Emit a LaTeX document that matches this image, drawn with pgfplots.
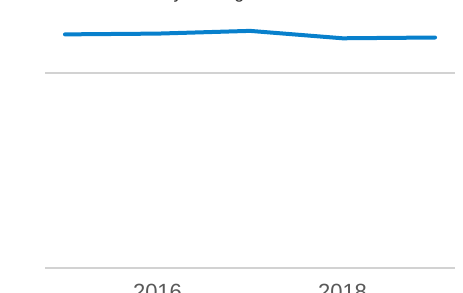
\documentclass[border=0pt]{standalone}
\usepackage{pgfplots}
\pgfplotsset{compat=1.18}
\usepackage{fontspec}
\setmainfont{Liberation Sans}
\definecolor{lineblue}{RGB}{8,128,204}
\definecolor{gridgray}{RGB}{210,210,210}
\definecolor{labelgray}{RGB}{89,89,89}
\definecolor{titlegray}{RGB}{51,51,51}
\begin{document}
\begin{tikzpicture}[x=1pt,y=1pt]
\clip (0,0) rectangle (463,292);
\path[use as bounding box] (0,0) rectangle (463,292);
\node[anchor=base west, inner sep=0pt, font=\fontsize{18}{22}\selectfont, text=titlegray] at (119.5,293.5) {Monthly Average};
\begin{axis}[
  at={(45pt,24pt)}, anchor=south west,
  scale only axis, width=410pt, height=273pt,
  xmin=2014.784, xmax=2019.216, ymin=0, ymax=70,
  axis line style={draw=none},
  major tick length=0pt,
  ytick={0,50}, yticklabels={},
  ymajorgrids, grid style={color=gridgray, line width=1.6pt},
  xtick={2016,2018}, xticklabels={2016,2018},
  /pgf/number format/assume math mode=true,
  xticklabel style={font=\fontsize{22}{26}\selectfont, text=labelgray, anchor=north, inner sep=0pt, yshift=-16pt},
]
\addplot[lineblue, line width=4pt, line cap=round, line join=round] coordinates {
(2015,59.9) (2016,60.1) (2017,60.8) (2018,58.9) (2019,59.1)
};
\end{axis}
\end{tikzpicture}
\end{document}
